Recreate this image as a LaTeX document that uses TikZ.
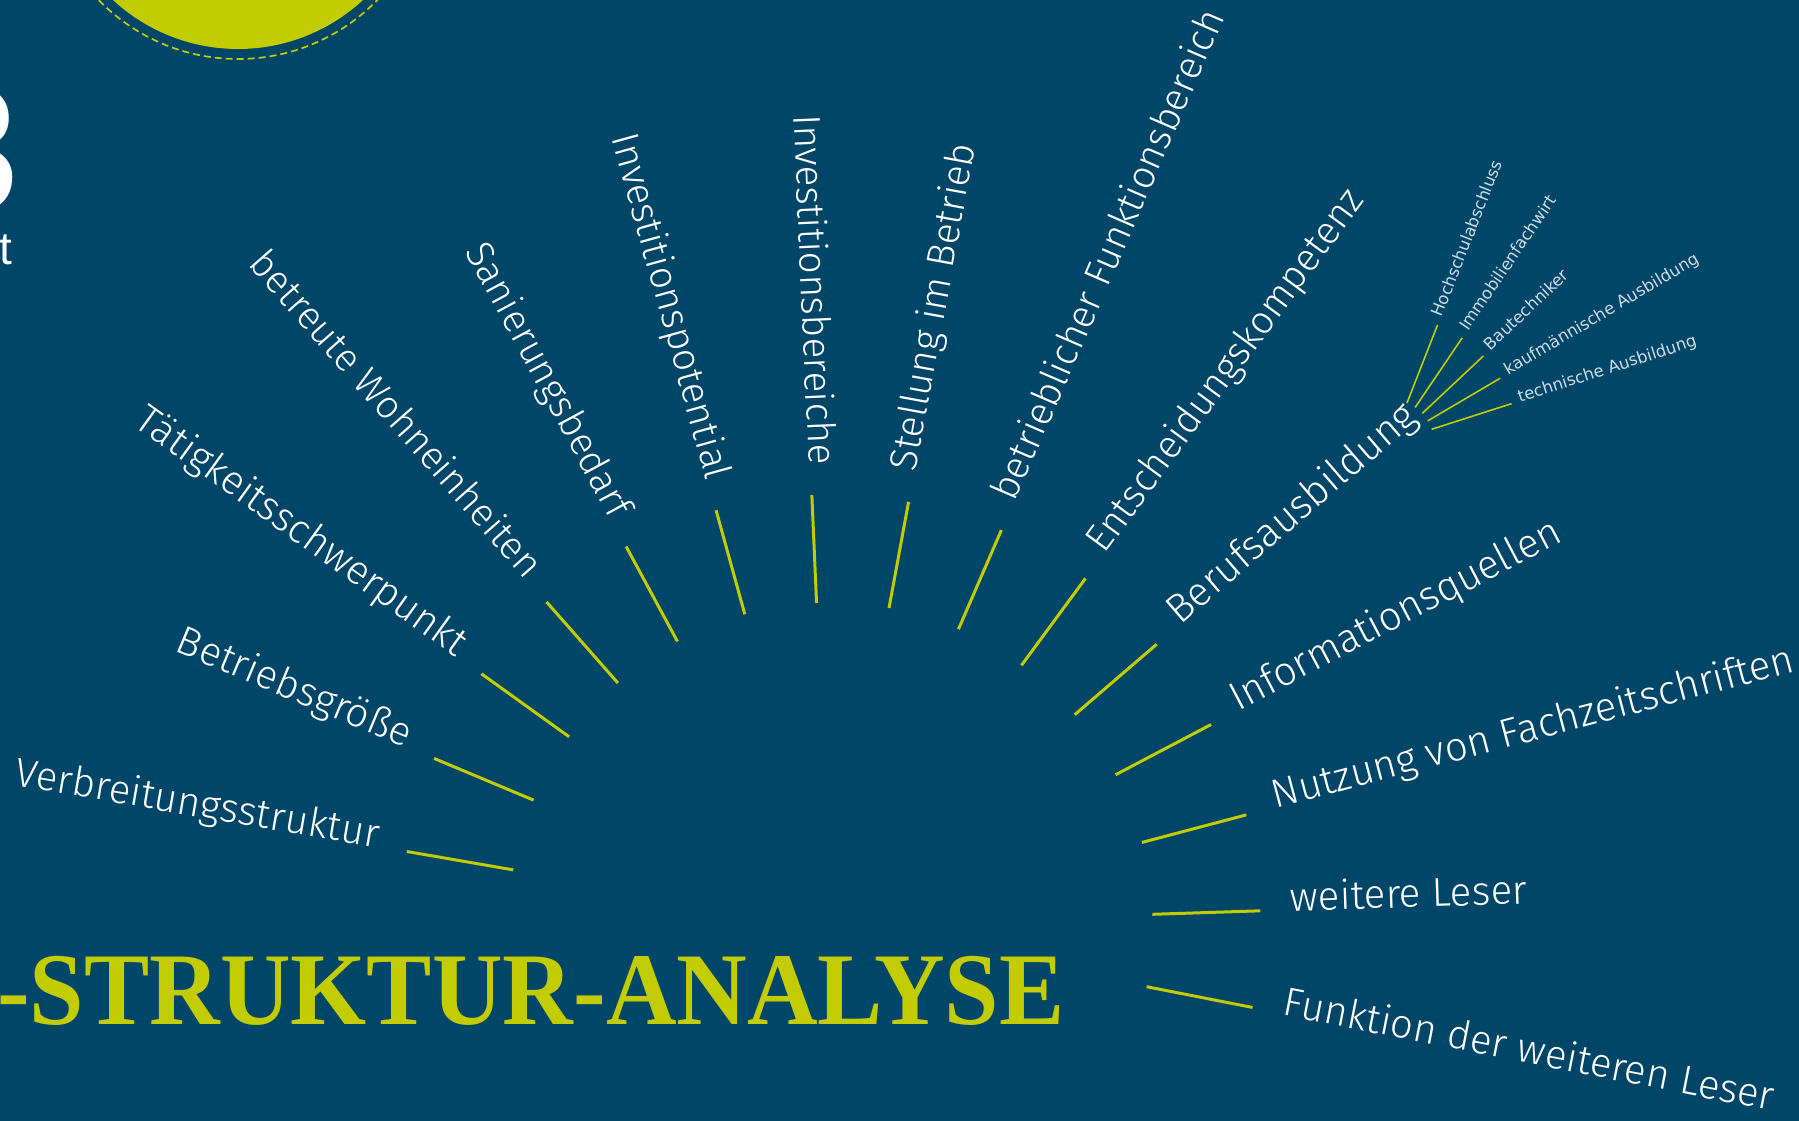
\documentclass[tikz,border=0pt]{standalone}
\usepackage{fontspec}
\setmainfont{Fira Sans Light}
\newfontfamily\titlefont{Liberation Serif}
\newfontfamily\logofont{Liberation Sans}
\newfontfamily\smallfont{DejaVu Sans}
\usetikzlibrary{calc}

\begin{document}
\begin{tikzpicture}[x=1pt, y=1pt,
        ray/.style={draw=analime, line width=3pt},
        subray/.style={draw=analime, line width=1.6pt},
        lbl/.style={text=white, inner sep=0pt, text height=0.3em, text depth=0pt, font=\fontsize{#1}{42}\selectfont},
        sublbl/.style={text=anagrey, inner sep=0pt, text height=0.3em, text depth=0pt, font=\smallfont\fontsize{16.5}{18}\selectfont}]
        \definecolor{anablue}{RGB}{0,70,104}
        \definecolor{analime}{RGB}{194,204,0}
        \definecolor{anagrey}{RGB}{206,220,230}

        % Background and page frame
        \fill[anablue] (0,0) rectangle (1799,1121);
        \useasboundingbox (0,0) rectangle (1799,1121);

        % Sun at the top edge
        \fill[analime] (238,1256) circle (184);
        \draw[analime, line width=1.7pt, dash pattern=on 7pt off 4pt] (238,1256) circle (194);

        % Cut-off logo at the left edge
        \node[anchor=base east, inner sep=0pt, text=white, font=\logofont\fontsize{180}{180}\selectfont] (logodigit) at (21,909) {3};
        \node[anchor=base west, inner sep=0pt, text=white, font=\logofont\fontsize{46}{46}\selectfont] (logoword) at (-1,856) {t};

        % Title
        \node[anchor=base west, inner sep=0pt, xscale=0.95, text=analime, font=\titlefont\bfseries\fontsize{103}{103}\selectfont] (title) at (-3,96) {-STRUKTUR-ANALYSE};

        % Fan of rays with labels
        \coordinate (hub) at (830.6,196.3);
        \foreach \txt/\sz [count=\i from 0] in {Verbreitungsstruktur/40.3, Betriebsgröße/40.3, Tätigkeitsschwerpunkt/40.3, betreute Wohneinheiten/38.8, Sanierungsbedarf/38.8, Investitionspotential/38.8, Investitionsbereiche/38.8, Stellung im Betrieb/38.8, betrieblicher Funktionsbereich/38.8, Entscheidungskompetenz/38.8, Berufsausbildung/40.3, Informationsquellen/40.3, Nutzung von Fachzeitschriften/40.3, weitere Leser/40.3, Funktion der weiteren Leser/40.3} {
            \pgfmathsetmacro{\ang}{170.2-12.95*\i}
            \coordinate (in\i) at ($(hub)+(\ang:322)$);
            \coordinate (out\i) at ($(hub)+(\ang:430)$);
            \draw[ray] (in\i) -- (out\i);
            \ifnum\i<7
                \node[lbl=\sz, anchor=east, rotate=\ang+180] (lab\i) at ($(hub)+(\ang:460)$) {\txt};
            \else
                \node[lbl=\sz, anchor=west, rotate=\ang] (lab\i) at ($(hub)+(\ang:460)$) {\txt};
            \fi
        }

        % Sub-fan after Berufsausbildung
        \coordinate (subhub) at ($(hub)+(40.7:740)$);
        \foreach \txt [count=\j from 0] in {Hochschulabschluss, Immobilienfachwirt, Bautechniker, kaufmännische Ausbildung, technische Ausbildung} {
            \pgfmathsetmacro{\sang}{68.6-12.7*\j}
            \coordinate (subin\j) at ($(subhub)+(\sang:42)$);
            \coordinate (subout\j) at ($(subhub)+(\sang:126)$);
            \draw[subray] (subin\j) -- (subout\j);
            \node[sublbl, anchor=west, rotate=\sang] (sub\j) at ($(subhub)+(\sang:134)$) {\txt};
        }
    \end{tikzpicture}
\end{document}
